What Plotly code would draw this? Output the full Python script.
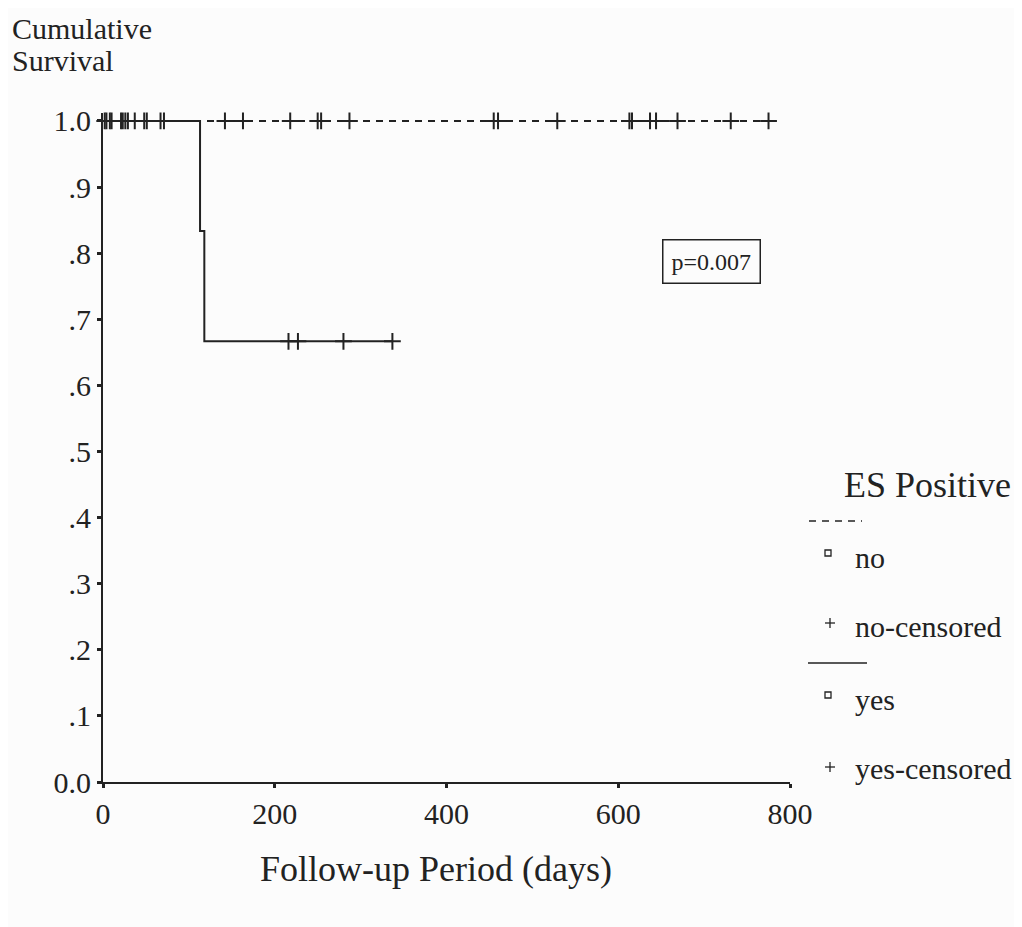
import plotly.graph_objects as go

# ---------------- data ----------------
# "no" group: no events, only censored observations (days)
no_event_times = []
no_censor_times = [2, 4, 8, 10, 21, 23, 26, 29, 37, 48, 51, 67, 71,
                   142, 163, 218, 250, 254, 287,
                   455, 460, 529, 613, 616, 637, 644, 669, 731, 775]
# "yes" group: two events, four censored
yes_event_times = [113, 118]
yes_censor_times = [216, 227, 280, 337]

x_tick_vals = [0, 200, 400, 600, 800]
y_tick_vals = [0.0, 0.1, 0.2, 0.3, 0.4, 0.5, 0.6, 0.7, 0.8, 0.9, 1.0]
y_tick_text = ["0.0", ".1", ".2", ".3", ".4", ".5", ".6", ".7", ".8", ".9", "1.0"]

legend_title = "ES Positive"
legend_labels = ["no", "no-censored", "yes", "yes-censored"]
p_text = "p=0.007"


def kaplan_meier(events, censors):
    obs = sorted([(t, 1) for t in events] + [(t, 0) for t in censors])
    n = len(obs)
    xs, ys = [0], [1.0]
    s = 1.0
    at_risk = n
    cens_x, cens_y = [], []
    for t, e in obs:
        if e == 1:
            s = s * (at_risk - 1) / at_risk
            xs.append(t)
            ys.append(s)
        else:
            cens_x.append(t)
            cens_y.append(s)
        at_risk -= 1
    xs.append(obs[-1][0])
    ys.append(s)
    return xs, ys, cens_x, cens_y


INK = "#222222"
FONT = "Liberation Serif"
BG = "#fcfcfc"

fig = go.Figure()

for events, censors, dash in [(no_event_times, no_censor_times, "7px,6px"),
                              (yes_event_times, yes_censor_times, "solid")]:
    xs, ys, cx, cy = kaplan_meier(events, censors)
    fig.add_trace(go.Scatter(x=xs, y=ys, mode="lines", line_shape="hv",
                             line=dict(color=INK, width=2, dash=dash),
                             showlegend=False, hoverinfo="skip"))
    fig.add_trace(go.Scatter(x=cx, y=cy, mode="markers", cliponaxis=False,
                             marker=dict(symbol="cross-thin", size=12,
                                         line=dict(width=2, color=INK)),
                             showlegend=False))

# ---------------- layout ----------------
# the page body has an 8px margin, so the figure starts at (8, 8)
OX, OY = 8, 8
FW, FH = 1014, 919
L, T = 103 - OX, 113 - OY
PW, PH = 687, 669
R = FW - L - PW
B = FH - T - PH


def px(xp):
    return (xp - OX - L) / PW


def py(yp):
    return (T + PH - (yp - OY)) / PH


annotations = [
    dict(text="Cumulative", x=px(10), y=py(28), xanchor="left", yanchor="middle",
         font=dict(size=30)),
    dict(text="Survival", x=px(10), y=py(60), xanchor="left", yanchor="middle",
         font=dict(size=30)),
    dict(text="Follow-up Period (days)", x=px(436), y=py(869), xanchor="center",
         yanchor="middle", font=dict(size=36)),
    dict(text=legend_title, x=px(842), y=py(485), xanchor="left", yanchor="middle",
         font=dict(size=36)),
    dict(text=legend_labels[0], x=px(853), y=py(557), xanchor="left", yanchor="middle",
         font=dict(size=30)),
    dict(text=legend_labels[1], x=px(853), y=py(626), xanchor="left", yanchor="middle",
         font=dict(size=30)),
    dict(text=legend_labels[2], x=px(853), y=py(699), xanchor="left", yanchor="middle",
         font=dict(size=30)),
    dict(text=legend_labels[3], x=px(853), y=py(768), xanchor="left", yanchor="middle",
         font=dict(size=30)),
]
for a in annotations:
    a.update(xref="paper", yref="paper", showarrow=False)
    a["font"].update(family=FONT, color=INK)

annotations.append(dict(text=p_text, x=709, y=0.788, xref="x", yref="y",
                        showarrow=False, bordercolor=INK, borderwidth=1.5,
                        borderpad=8, font=dict(family=FONT, size=24, color=INK)))

shapes = [
    dict(type="line", xref="paper", yref="paper", x0=px(809), x1=px(862),
         y0=py(521), y1=py(521), line=dict(color=INK, width=1.5, dash="7px,6px")),
    dict(type="line", xref="paper", yref="paper", x0=px(808), x1=px(867),
         y0=py(663), y1=py(663), line=dict(color=INK, width=1.5)),
]
for yc in (553, 695):
    shapes.append(dict(type="rect", xref="paper", yref="paper",
                       x0=px(825), x1=px(831), y0=py(yc + 3), y1=py(yc - 3),
                       line=dict(color=INK, width=1.3)))
for yc in (623, 767):
    shapes.append(dict(type="line", xref="paper", yref="paper", x0=px(825), x1=px(835),
                       y0=py(yc), y1=py(yc), line=dict(color=INK, width=1.3)))
    shapes.append(dict(type="line", xref="paper", yref="paper", x0=px(830), x1=px(830),
                       y0=py(yc - 5), y1=py(yc + 5), line=dict(color=INK, width=1.3)))

fig.update_layout(
    width=FW, height=FH,
    margin=dict(l=L, r=R, t=T, b=B),
    paper_bgcolor=BG, plot_bgcolor=BG,
    font=dict(family=FONT, color=INK),
    annotations=annotations, shapes=shapes,
    showlegend=False,
)
fig.update_xaxes(range=[0, 800], tickvals=x_tick_vals, showgrid=False, zeroline=False,
                 showline=True, linecolor=INK, linewidth=2, ticks="outside",
                 ticklen=4, tickwidth=3, tickcolor=INK,
                 tickfont=dict(family=FONT, size=30, color=INK))
fig.update_yaxes(range=[0, 1.012], tickvals=y_tick_vals, ticktext=y_tick_text,
                 showgrid=False, zeroline=False, showline=True, linecolor=INK,
                 linewidth=2, ticks="outside", ticklen=4, tickwidth=3, tickcolor=INK,
                 tickfont=dict(family=FONT, size=30, color=INK))

fig.write_html("out.html")
